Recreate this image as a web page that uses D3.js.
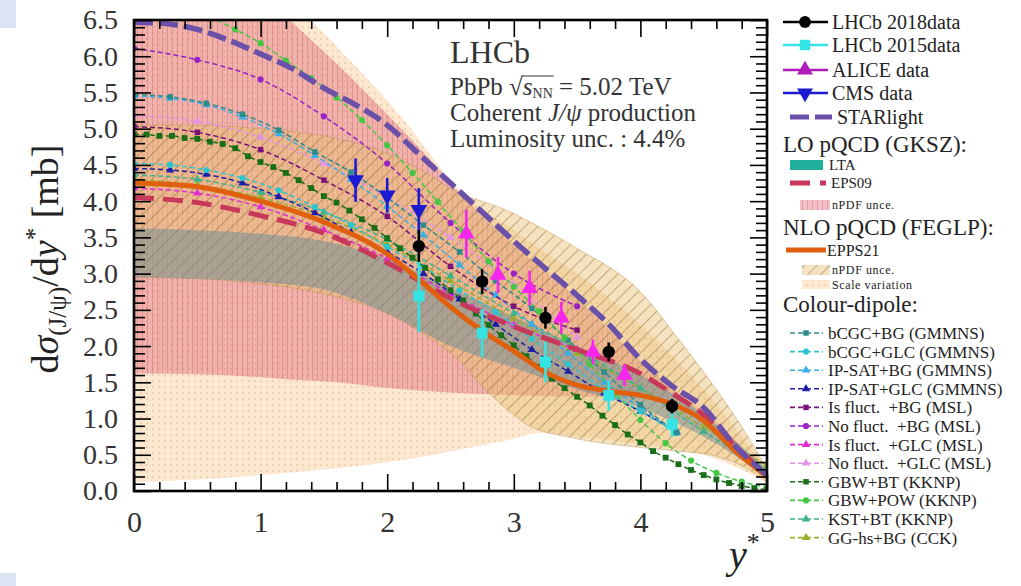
<!DOCTYPE html>
<html><head><meta charset="utf-8">
<script src="https://cdn.jsdelivr.net/npm/d3@7"></script>
<style>
body{margin:0;background:#fff;}
svg{display:block;}
</style></head><body>
<svg id="c" width="1021" height="586"></svg>
<script>
// ---------------- DATA ----------------
const xTicks = [0,1,2,3,4,5];
const yTicks = [0,0.5,1,1.5,2,2.5,3,3.5,4,4.5,5,5.5,6,6.5];

// Data points
const lhcb18X = [2.25,2.75,3.25,3.75,4.25];
const lhcb18Y = [3.38,2.89,2.39,1.92,1.17];
const lhcb18E = [0.22,0.17,0.15,0.13,0.10];
const lhcb15X = [2.25,2.75,3.25,3.75,4.25];
const lhcb15Y = [2.69,2.18,1.78,1.32,0.92];
const lhcb15E = [0.50,0.33,0.28,0.21,0.17];
const aliceX = [2.625,2.875,3.125,3.375,3.625,3.875];
const aliceY = [3.55,2.98,2.80,2.39,1.92,1.60];
const aliceE = [0.33,0.25,0.24,0.22,0.17,0.15];
const cmsX = [1.75,2.0,2.25];
const cmsY = [4.29,4.08,3.88];
const cmsE = [0.30,0.24,0.30];

// STARlight
const starX = [0,0.25,0.5,0.75,1,1.25,1.5,1.75,2,2.25,2.5,2.75,3,3.25,3.5,3.75,4,4.25,4.5,4.75,5];
const starY = [6.47,6.45,6.37,6.22,6.03,5.83,5.56,5.33,5.05,4.65,4.25,3.85,3.45,3.07,2.70,2.30,1.82,1.45,1.15,0.62,0.22];

// LO pQCD (GKSZ)
const eps09X = [0,0.5,1,1.5,2,2.5,3,3.5,4,4.25,4.5,4.75,5];
const eps09Y = [4.05,3.98,3.80,3.56,3.15,2.66,2.27,1.95,1.62,1.35,1.05,0.62,0.22];
const ltaX  = [0,0.5,1,1.5,2,2.5,3,3.5,4,4.5,5];
const ltaLo = [2.95,2.93,2.88,2.78,2.45,2.00,1.70,1.40,1.15,0.75,0.20];
const ltaHi = [3.63,3.60,3.55,3.45,3.20,2.80,2.40,2.00,1.60,1.05,0.30];
const eps09UncX  = [0,0.5,1,1.23,1.6,2,2.3,2.6,3,3.5,4,4.3,4.6,5];
const eps09UncLo = [1.62,1.61,1.57,1.54,1.50,1.42,1.38,1.35,1.32,1.30,1.30,1.20,0.85,0.20];
const eps09UncHi = [8.20,7.60,6.90,6.50,5.90,5.20,4.65,4.06,3.40,2.66,1.80,1.35,0.95,0.22];

// NLO pQCD (FEGLP)
const epps21X = [0,0.5,1,1.5,2,2.25,2.5,2.75,3,3.25,3.5,3.75,4,4.25,4.5,4.75,5];
const epps21Y = [4.25,4.20,4.00,3.71,3.27,2.92,2.54,2.21,1.93,1.64,1.46,1.38,1.32,1.20,0.97,0.55,0.20];
const epps21UncX  = [0,0.5,1,1.5,2,2.3,2.6,2.75,3,3.1,3.5,4,4.3,4.6,4.85,5];
const epps21UncLo = [2.95,2.93,2.86,2.72,2.45,2.15,1.75,1.45,1.05,0.92,0.72,0.60,0.55,0.48,0.30,0.12];
const epps21UncHi = [5.05,5.05,5.00,4.90,4.66,4.40,4.08,4.00,3.83,3.74,3.35,2.75,2.10,1.40,0.75,0.30];
const scaleX  = [0,0.5,1,1.39,1.7,2.1,2.6,3,3.2,3.5,4,4.5,5];
const scaleLo = [0.12,0.16,0.22,0.28,0.33,0.42,0.58,0.72,0.80,0.75,0.65,0.50,0.12];
const scaleHi = [8.00,7.50,6.90,6.50,5.95,5.19,4.10,3.60,3.35,3.00,2.30,1.40,0.30];

// Colour-dipole models
const gmmnsX = [0,0.286,0.571,0.857,1.143,1.429,1.714,2.0,2.286,2.571,2.857,3.143,3.429,3.714,4.0,4.286];
const bcgcBG   = [5.47,5.44,5.35,5.20,4.98,4.68,4.40,4.05,3.67,3.30,2.90,2.52,2.08,1.64,1.19,0.81];
const bcgcGLC  = [4.52,4.50,4.43,4.32,4.15,3.92,3.67,3.37,3.09,2.77,2.47,2.10,1.75,1.40,1.10,0.80];
const ipsatBG  = [5.45,5.42,5.33,5.16,4.93,4.63,4.30,3.93,3.53,3.12,2.70,2.30,1.90,1.50,1.15,0.80];
const ipsatGLC = [4.45,4.43,4.37,4.25,4.06,3.84,3.57,3.30,3.00,2.65,2.30,1.95,1.65,1.35,1.10,0.82];
const mslX = [0,0.5,1,1.5,2,2.5,3,3.5];
const isFluctBG  = [5.03,4.95,4.71,4.29,3.79,3.10,2.55,2.22];
const noFluctBG  = [6.11,5.95,5.68,5.17,4.52,3.70,3.00,2.55];
const isFluctGLC = [4.18,4.11,3.92,3.60,3.21,2.72,2.29,1.95];
const noFluctGLC = [5.18,5.10,4.88,4.52,4.05,3.50,2.85,2.12];
const gbwBTX = [0,0.1,0.2,0.3,0.4,0.5,0.6,0.7,0.8,0.9,1,1.1,1.2,1.3,1.4,1.5,1.6,1.7,1.8,1.9,2,2.1,2.2,2.3,2.4,2.5,2.6,2.7,2.8,2.9,3,3.1,3.2,3.3,3.4,3.5,3.6,3.7,3.8,3.9,4,4.1,4.2,4.3,4.4,4.5,4.6,4.7,4.8,4.9,5];
const gbwBT  = [4.92,4.92,4.90,4.90,4.87,4.86,4.82,4.79,4.73,4.62,4.54,4.47,4.39,4.29,4.18,4.07,3.98,3.87,3.75,3.63,3.49,3.35,3.22,3.08,2.92,2.77,2.63,2.45,2.29,2.15,2.01,1.86,1.71,1.55,1.42,1.30,1.18,1.04,0.91,0.78,0.67,0.55,0.46,0.37,0.29,0.22,0.16,0.11,0.07,0.04,0.02];
const gbwPOWX = [0,0.2,0.4,0.6,0.8,1,1.2,1.4,1.6,1.8,2,2.2,2.4,2.6,2.8,3,3.2,3.4,3.6,3.8,4,4.2,4.4,4.6,4.8,5];
const gbwPOW  = [6.85,6.80,6.72,6.55,6.37,6.18,5.94,5.70,5.43,5.12,4.77,4.39,3.99,3.58,3.17,2.82,2.48,2.12,1.75,1.35,0.98,0.66,0.42,0.25,0.13,0.05];
const kkX = [0,0.5,1,1.5,2,2.5,3,3.5,4,4.5,5];
const kstBT = [4.36,4.30,4.12,3.85,3.47,2.97,2.45,1.95,1.42,0.82,0.30];
const ggHsBG = [4.30,4.22,4.05,3.78,3.40,2.90,2.38,1.90,1.42,0.88,0.35];

const dipoleNames = ["bCGC+BG (GMMNS)","bCGC+GLC (GMMNS)","IP-SAT+BG (GMMNS)","IP-SAT+GLC (GMMNS)",
  "Is fluct.  +BG (MSL)","No fluct.  +BG (MSL)","Is fluct.  +GLC (MSL)","No fluct.  +GLC (MSL)",
  "GBW+BT (KKNP)","GBW+POW (KKNP)","KST+BT (KKNP)","GG-hs+BG (CCK)"];
const dipoleColors = ["#2e8b8b","#2ec4cc","#3aaee6","#1e1ea8","#7a127a","#9a22c4","#e22ed2","#e494e4",
  "#1a6e1a","#44c844","#3cb38a","#9aae2c"];

// ---------------- CHART ----------------
const FONT = "'Liberation Serif', 'Times New Roman', serif";
const svg = d3.select("#c").style("font-family", FONT);
const x = d3.scaleLinear().domain([0,5]).range([134,767]);
const y = d3.scaleLinear().domain([0,6.5]).range([491,20]);

svg.append("rect").attr("x",0).attr("y",0).attr("width",16).attr("height",28).attr("fill","#dbe4f3");
svg.append("rect").attr("x",0).attr("y",573).attr("width",16).attr("height",13).attr("fill","#dbe4f3");

const defs = svg.append("defs");
defs.append("clipPath").attr("id","plot").append("rect")
  .attr("x",x(0)).attr("y",y(6.5)).attr("width",x(5)-x(0)).attr("height",y(0)-y(6.5));

const pd = defs.append("pattern").attr("id","pDots").attr("patternUnits","userSpaceOnUse").attr("width",6).attr("height",6);
pd.append("rect").attr("width",6).attr("height",6).attr("fill","#fce8d0");
pd.append("circle").attr("cx",3).attr("cy",3).attr("r",0.85).attr("fill","#e2bf96");

const pv = defs.append("pattern").attr("id","pVert").attr("patternUnits","userSpaceOnUse").attr("width",5).attr("height",5);
pv.append("rect").attr("width",5).attr("height",5).attr("fill","rgba(220,88,106,0.37)");
pv.append("line").attr("x1",2.5).attr("x2",2.5).attr("y1",0).attr("y2",5).attr("stroke","rgba(175,60,80,0.26)").attr("stroke-width",1);

const pt = defs.append("pattern").attr("id","pDiag").attr("patternUnits","userSpaceOnUse").attr("width",9).attr("height",9).attr("patternTransform","rotate(45)");
pt.append("rect").attr("width",9).attr("height",9).attr("fill","rgba(232,192,112,0.45)");
pt.append("line").attr("x1",0.5).attr("x2",0.5).attr("y1",0).attr("y2",9).attr("stroke","rgba(130,92,45,0.45)").attr("stroke-width",1);

const plot = svg.append("g").attr("clip-path","url(#plot)");
const zip = (xs,a,b) => xs.map((v,i)=>({x:v,lo:a[i],hi:b?b[i]:undefined}));
const area = d3.area().x(d=>x(d.x)).y0(d=>y(d.lo)).y1(d=>y(d.hi)).curve(d3.curveMonotoneX);
const line = d3.line().x(d=>x(d.x)).y(d=>y(d.lo)).curve(d3.curveMonotoneX);

plot.append("path").attr("d",area(zip(scaleX,scaleLo,scaleHi))).attr("fill","url(#pDots)");
plot.append("path").attr("d",area(zip(eps09UncX,eps09UncLo,eps09UncHi))).attr("fill","url(#pVert)");
plot.append("path").attr("d",area(zip(epps21UncX,epps21UncLo,epps21UncHi))).attr("fill","url(#pDiag)")
  .attr("stroke","rgba(180,140,80,0.5)").attr("stroke-width",0.8);
plot.append("path").attr("d",area(zip(ltaX,ltaLo,ltaHi))).attr("fill","#6a8c98").attr("opacity",0.5);

// colour-dipole curves
const dip = [
  [gmmnsX,bcgcBG,d3.symbolSquare],[gmmnsX,bcgcGLC,d3.symbolCircle],[gmmnsX,ipsatBG,d3.symbolTriangle],[gmmnsX,ipsatGLC,d3.symbolTriangle],
  [mslX,isFluctBG,d3.symbolSquare],[mslX,noFluctBG,d3.symbolCircle],[mslX,isFluctGLC,d3.symbolTriangle],[mslX,noFluctGLC,d3.symbolTriangle],
  [gbwBTX,gbwBT,d3.symbolSquare],[gbwPOWX,gbwPOW,d3.symbolCircle],[kkX,kstBT,d3.symbolTriangle],[kkX,ggHsBG,d3.symbolTriangle]
];
const drawOrder = [11,10,7,6,3,2,1,0,4,5,9,8];
drawOrder.forEach(k=>{
  const [xs,ys,sym] = dip[k];
  const c = dipoleColors[k];
  const d = zip(xs,ys);
  plot.append("path").attr("d",line(d)).attr("fill","none").attr("stroke",c).attr("stroke-width",1.5).attr("stroke-dasharray","5,3");
  plot.selectAll(null).data(d).enter().append("path")
    .attr("transform",p=>`translate(${x(p.x)},${y(p.lo)})`)
    .attr("d",d3.symbol().type(sym).size(k===8?34:30)).attr("fill",c);
});

plot.append("path").attr("d",line(zip(eps09X,eps09Y))).attr("fill","none").attr("stroke","#c8385a").attr("stroke-width",5).attr("stroke-dasharray","20,9");
plot.append("path").attr("d",line(zip(epps21X,epps21Y))).attr("fill","none").attr("stroke","#e0600e").attr("stroke-width",5);
plot.append("path").attr("d",line(zip(starX,starY))).attr("fill","none").attr("stroke","#6a50a8").attr("stroke-width",5.5).attr("stroke-dasharray","19,6");

function dataSet(xs,ys,es,color,sym,size,rot){
  const d = xs.map((v,i)=>({x:v,y:ys[i],e:es[i]}));
  const g = svg.append("g");
  g.selectAll("line").data(d).enter().append("line")
    .attr("x1",p=>x(p.x)).attr("x2",p=>x(p.x)).attr("y1",p=>y(p.y-p.e)).attr("y2",p=>y(p.y+p.e))
    .attr("stroke",color).attr("stroke-width",2.6);
  g.selectAll("path").data(d).enter().append("path")
    .attr("transform",p=>`translate(${x(p.x)},${y(p.y)}) rotate(${rot})`)
    .attr("d",d3.symbol().type(sym).size(size)).attr("fill",color);
}
dataSet(cmsX,cmsY,cmsE,"#1a1ad0",d3.symbolTriangle,120,180);
dataSet(aliceX,aliceY,aliceE,"#f626ee",d3.symbolTriangle,120,0);
dataSet(lhcb15X,lhcb15Y,lhcb15E,"#34e4e4",d3.symbolSquare,120,0);
dataSet(lhcb18X,lhcb18Y,lhcb18E,"#000000",d3.symbolCircle,120,0);

// axes
const xMinor = d3.range(0,5.0001,0.2).filter(v=>Math.abs(v-Math.round(v))>1e-6);
const yMinor = d3.range(0,6.5001,0.1).filter(v=>Math.abs(v*2-Math.round(v*2))>1e-6);
function styleAxis(g){ g.attr("font-family",null).attr("font-size",null); g.select(".domain").remove(); g.selectAll(".tick line").attr("stroke","#000").attr("stroke-width",1.6); }
const ax = svg.append("g");
ax.append("g").attr("transform","translate(0,491)").call(d3.axisBottom(x).tickValues(xMinor).tickSize(-9).tickFormat("")).call(styleAxis);
ax.append("g").attr("transform","translate(0,491)").call(d3.axisBottom(x).tickValues(xTicks).tickSize(-17).tickPadding(20).tickFormat(d3.format("d"))).call(styleAxis)
  .selectAll("text").attr("font-size",30).attr("fill","#333").attr("font-family","Liberation Serif").style("font-family",FONT);
ax.append("g").attr("transform","translate(0,20)").call(d3.axisTop(x).tickValues(xMinor).tickSize(-9).tickFormat("")).call(styleAxis);
ax.append("g").attr("transform","translate(0,20)").call(d3.axisTop(x).tickValues(xTicks).tickSize(-17).tickFormat("")).call(styleAxis);
ax.append("g").attr("transform","translate(134,0)").call(d3.axisLeft(y).tickValues(yMinor).tickSize(-11).tickFormat("")).call(styleAxis);
ax.append("g").attr("transform","translate(134,0)").call(d3.axisLeft(y).tickValues(yTicks).tickSize(-17).tickPadding(16).tickFormat(d3.format(".1f"))).call(styleAxis)
  .selectAll("text").attr("font-size",28).attr("fill","#333").attr("font-family","Liberation Serif").style("font-family",FONT);
ax.append("g").attr("transform","translate(767,0)").call(d3.axisRight(y).tickValues(yMinor).tickSize(-11).tickFormat("")).call(styleAxis);
ax.append("g").attr("transform","translate(767,0)").call(d3.axisRight(y).tickValues(yTicks).tickSize(-17).tickFormat("")).call(styleAxis);
svg.append("rect").attr("x",x(0)).attr("y",y(6.5)).attr("width",x(5)-x(0)).attr("height",y(0)-y(6.5))
  .attr("fill","none").attr("stroke","#000").attr("stroke-width",2.6);

// axis titles
const yt = svg.append("text").attr("transform","translate(58,259) rotate(-90)").attr("text-anchor","middle")
  .attr("font-size",38).attr("fill","#222");
yt.append("tspan").text("d");
yt.append("tspan").attr("font-style","italic").text("σ");
yt.append("tspan").attr("font-size",25).attr("dy",8).text("(J/ψ)");
yt.append("tspan").attr("dy",-8).text("/d");
yt.append("tspan").attr("font-style","italic").text("y");
yt.append("tspan").attr("font-size",25).attr("dy",-15).text("*");
yt.append("tspan").attr("dy",15).text(" [mb]");

const xt = svg.append("text").attr("x",729).attr("y",568).attr("font-size",40).attr("fill","#222");
xt.append("tspan").attr("font-style","italic").text("y");
xt.append("tspan").attr("font-size",26).attr("dy",-17).text("*");

// info text
const info = svg.append("g").attr("fill","#333");
info.append("text").attr("x",450).attr("y",63).attr("font-size",32).text("LHCb");
const t2 = info.append("text").attr("x",450).attr("y",95).attr("font-size",25);
t2.append("tspan").text("PbPb √");
t2.append("tspan").attr("font-style","italic").text("s");
t2.append("tspan").attr("font-size",14).attr("dy",3).text("NN");
t2.append("tspan").attr("dy",-3).text(" = 5.02 TeV");
try{
  const n = t2.node();
  const x0 = n.getStartPositionOfChar(6).x, x1 = n.getEndPositionOfChar(8).x;
  info.append("line").attr("x1",x0-1).attr("x2",x1+1).attr("y1",76).attr("y2",76).attr("stroke","#333").attr("stroke-width",1.2);
}catch(e){}
const t3 = info.append("text").attr("x",450).attr("y",121).attr("font-size",25);
t3.append("tspan").text("Coherent ");
t3.append("tspan").attr("font-style","italic").text("J/ψ");
t3.append("tspan").text(" production");
info.append("text").attr("x",450).attr("y",147).attr("font-size",25).text("Luminosity unc. : 4.4%");

// legend
const lg = svg.append("g").attr("fill","#222");
function dataLeg(yy,color,sym,rot,label){
  lg.append("line").attr("x1",783).attr("x2",828).attr("y1",yy).attr("y2",yy).attr("stroke",color).attr("stroke-width",2.6);
  lg.append("path").attr("transform",`translate(805,${yy}) rotate(${rot})`).attr("d",d3.symbol().type(sym).size(110)).attr("fill",color);
  lg.append("text").attr("x",832).attr("y",yy+7).attr("font-size",20).text(label);
}
dataLeg(22,"#000000",d3.symbolCircle,0,"LHCb 2018data");
dataLeg(45,"#34e4e4",d3.symbolSquare,0,"LHCb 2015data");
dataLeg(70,"#b01cb8",d3.symbolTriangle,0,"ALICE data");
dataLeg(93,"#1a1ad0",d3.symbolTriangle,180,"CMS data");
lg.append("line").attr("x1",790).attr("x2",832).attr("y1",117).attr("y2",117).attr("stroke","#6a50a8").attr("stroke-width",5).attr("stroke-dasharray","19,6");
lg.append("text").attr("x",837).attr("y",124).attr("font-size",20).text("STARlight");

lg.append("text").attr("x",783).attr("y",152).attr("font-size",23).text("LO pQCD (GKSZ):");
lg.append("rect").attr("x",790).attr("y",160).attr("width",33).attr("height",10).attr("fill","#22b09c");
lg.append("text").attr("x",829).attr("y",170).attr("font-size",15).text("LTA");
lg.append("line").attr("x1",790).attr("x2",826).attr("y1",183).attr("y2",183).attr("stroke","#c8385a").attr("stroke-width",5).attr("stroke-dasharray","20,10");
lg.append("text").attr("x",831).attr("y",188).attr("font-size",15).text("EPS09");
lg.append("rect").attr("x",800).attr("y",200).attr("width",30).attr("height",10).attr("fill","url(#pVert)");
lg.append("text").attr("x",832).attr("y",209).attr("font-size",12).attr("letter-spacing",0.6).text("nPDF unce.");

lg.append("text").attr("x",783).attr("y",235).attr("font-size",23).text("NLO pQCD (FEGLP):");
lg.append("line").attr("x1",786).attr("x2",826).attr("y1",250).attr("y2",250).attr("stroke","#e0600e").attr("stroke-width",5);
lg.append("text").attr("x",827).attr("y",256).attr("font-size",16).text("EPPS21");
lg.append("rect").attr("x",802).attr("y",265).attr("width",28).attr("height",10).attr("fill","url(#pDiag)");
lg.append("text").attr("x",832).attr("y",274).attr("font-size",12).attr("letter-spacing",0.6).text("nPDF unce.");
lg.append("rect").attr("x",802).attr("y",280).attr("width",28).attr("height",9).attr("fill","url(#pDots)");
lg.append("text").attr("x",832).attr("y",289).attr("font-size",12).attr("letter-spacing",0.6).text("Scale variation");

lg.append("text").attr("x",783).attr("y",312).attr("font-size",23).text("Colour-dipole:");
dipoleNames.forEach((nm,k)=>{
  const yy = 333 + k*18.6;
  const c = dipoleColors[k];
  lg.append("line").attr("x1",790).attr("x2",823).attr("y1",yy).attr("y2",yy).attr("stroke",c).attr("stroke-width",1.6).attr("stroke-dasharray","5,3");
  lg.append("path").attr("transform",`translate(806,${yy})`).attr("d",d3.symbol().type(dip[k][2]).size(30)).attr("fill",c);
  lg.append("text").attr("x",828).attr("y",yy+6).attr("font-size",17).attr("xml:space","preserve").text(nm);
});
</script></body></html>
